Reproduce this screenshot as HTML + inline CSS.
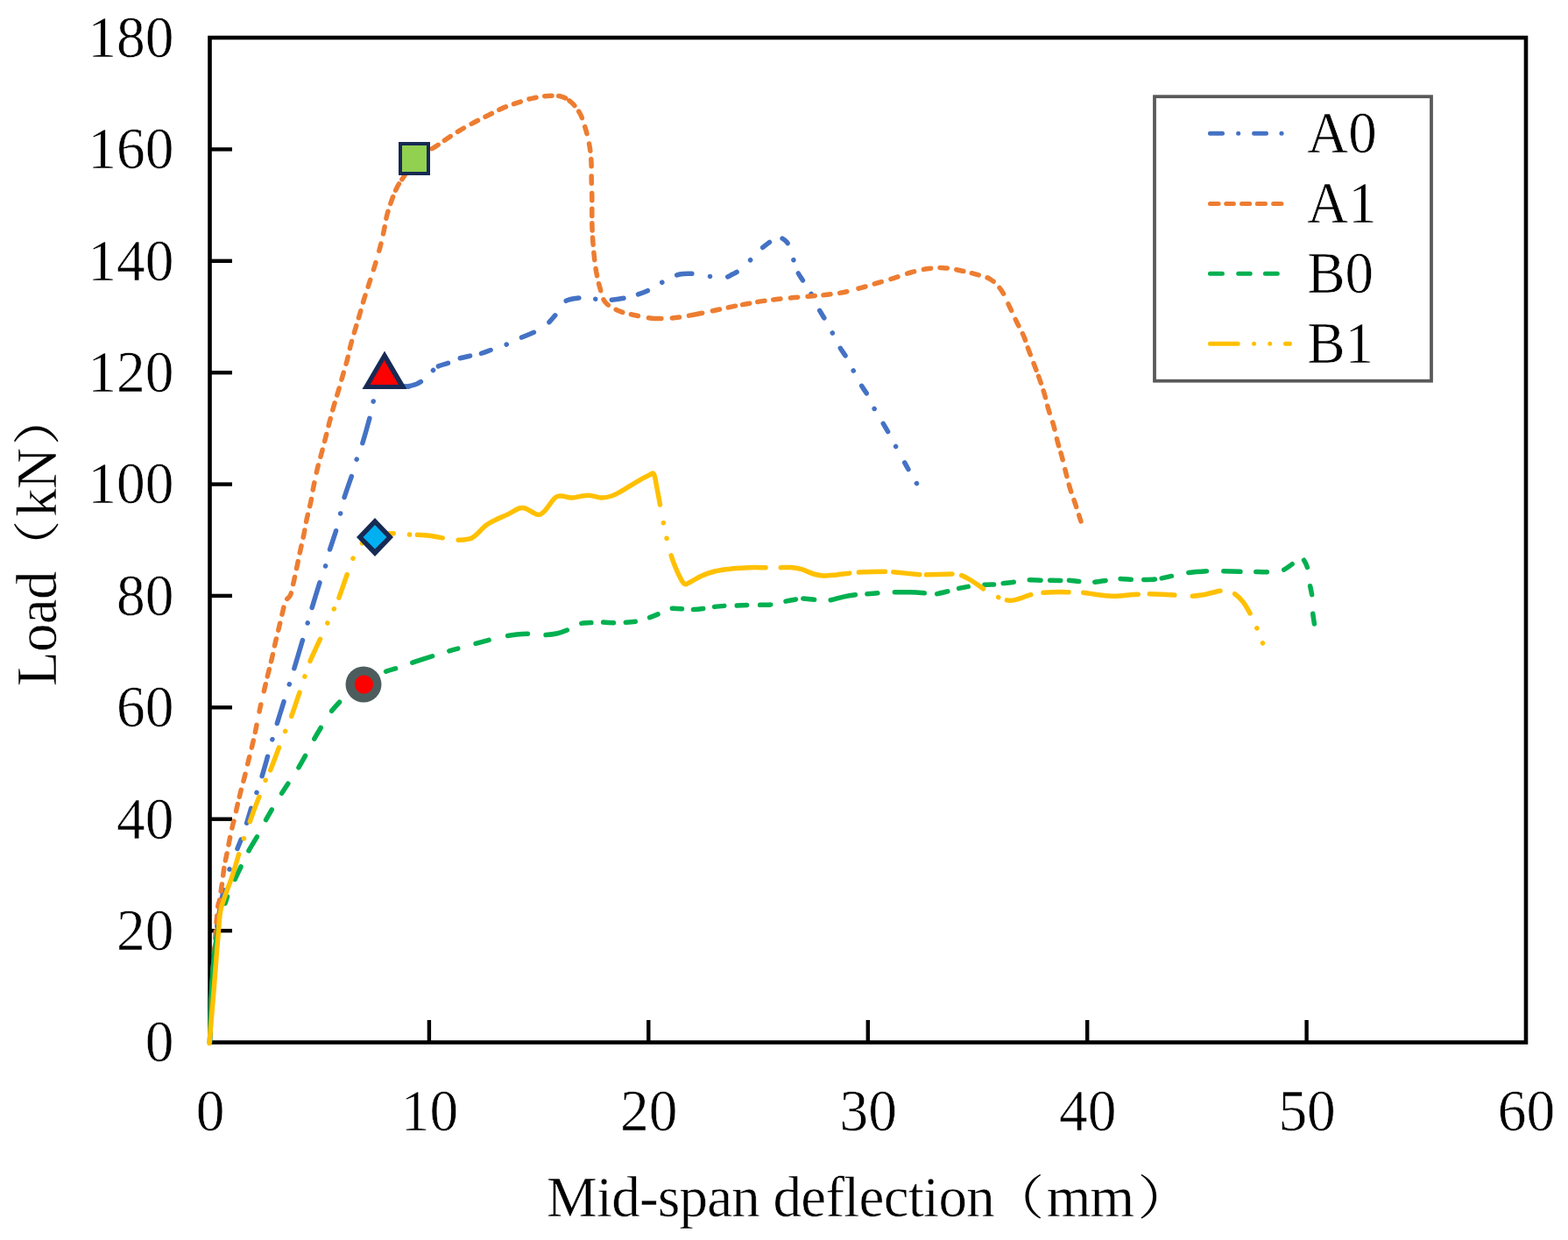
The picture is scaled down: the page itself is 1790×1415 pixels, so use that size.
<!DOCTYPE html>
<html><head><meta charset="utf-8"><title>Load vs Mid-span deflection</title>
<style>
html,body{margin:0;padding:0;background:#fff;}
svg{display:block;}
</style></head>
<body>
<svg width="1790" height="1415" viewBox="0 0 1790 1415">
<rect width="1790" height="1415" fill="#fff"/>
<g>
<rect x="239.5" y="43.0" width="1502.5" height="1146.5" fill="none" stroke="#000" stroke-width="4.6"/>
<line x1="239.5" y1="1062.1" x2="265" y2="1062.1" stroke="#000" stroke-width="4.4"/>
<line x1="239.5" y1="934.7" x2="265" y2="934.7" stroke="#000" stroke-width="4.4"/>
<line x1="239.5" y1="807.3" x2="265" y2="807.3" stroke="#000" stroke-width="4.4"/>
<line x1="239.5" y1="679.9" x2="265" y2="679.9" stroke="#000" stroke-width="4.4"/>
<line x1="239.5" y1="552.6" x2="265" y2="552.6" stroke="#000" stroke-width="4.4"/>
<line x1="239.5" y1="425.2" x2="265" y2="425.2" stroke="#000" stroke-width="4.4"/>
<line x1="239.5" y1="297.8" x2="265" y2="297.8" stroke="#000" stroke-width="4.4"/>
<line x1="239.5" y1="170.4" x2="265" y2="170.4" stroke="#000" stroke-width="4.4"/>
<line x1="489.9" y1="1189.5" x2="489.9" y2="1164" stroke="#000" stroke-width="4.4"/>
<line x1="740.3" y1="1189.5" x2="740.3" y2="1164" stroke="#000" stroke-width="4.4"/>
<line x1="990.8" y1="1189.5" x2="990.8" y2="1164" stroke="#000" stroke-width="4.4"/>
<line x1="1241.2" y1="1189.5" x2="1241.2" y2="1164" stroke="#000" stroke-width="4.4"/>
<line x1="1491.6" y1="1189.5" x2="1491.6" y2="1164" stroke="#000" stroke-width="4.4"/>
</g>
<g>
<path d="M239.5 1189.5 C239.8 1181.2 240.8 1155.8 241.5 1140 C242.2 1124.2 243 1108.3 244 1095 C245 1081.7 246.2 1070 247.5 1060 C248.8 1050 250.1 1042.8 251.5 1035 C252.9 1027.2 254.2 1020.2 256 1013 C257.8 1005.8 259.7 999 262 992 C264.3 985 267.5 977.3 269.9 971.2 C272.2 965.1 274.2 960.7 276.1 955.6 C278 950.5 279.2 946.8 281.1 940.9 C283 935 285.5 926.1 287.5 920 C289.5 913.9 291.2 909.7 293 904.4 C294.8 899.1 296.2 895.4 298.4 888.1 C300.6 880.9 304.1 868.3 306.2 860.9 C308.3 853.5 309.3 849.2 310.9 843.8 C312.4 838.3 313.9 833.3 315.5 828.2 C317.1 823.1 318.6 818 320.2 813 C321.8 808 323.2 803.3 324.9 797.9 C326.6 792.5 328.6 786.2 330.3 780.8 C332 775.4 332.5 774.1 335.1 765.3 C337.8 756.5 343.5 737 346.2 728 C348.9 719 349.6 716.4 351.2 711 C352.8 705.6 353.1 703.8 355.5 695.7 C357.9 687.6 363 670.9 365.7 662.6 C368.4 654.3 369.9 651.5 371.6 646 C373.3 640.5 373.7 636.6 375.8 629.5 C377.9 622.4 382.2 610.5 384.3 603.3 C386.4 596 387.2 591.9 388.6 586 C390.1 580.1 390.8 575.5 393 568 C395.2 560.5 399.7 548.5 402.1 541.2 C404.5 533.9 405.4 529.7 407.2 524.2 C409 518.7 410.6 516.3 413.1 508.1 C415.7 499.9 420.3 483.3 422.5 475 C424.7 466.7 424.9 462.6 426.2 458.1 C427.4 453.6 428.4 450.7 430 448 C431.6 445.3 433.5 443.2 436 442 C438.5 440.8 441.8 440.8 445 440.5 C448.2 440.2 451.5 440.4 455 440.5 C458.5 440.6 464.2 440.9 466 441" fill="none" stroke="#4472C4" stroke-width="5.5" stroke-linecap="round" stroke-linejoin="round" stroke-dasharray="91.86 40.68 42.28 24.55 0.10 24.95 11.29 20.11 17.28 19.24 0.10 19.87 22.80 20.43 0.10 18.96 26.22 20.63 0.10 18.93 33.42 20.42 0.10 18.59 29.14 20.32 0.10 19.73 22.05 20.53 0.10 18.99 25.05 20.45 0.10 19.85 28.91 20.01 0.10 41.32 8.26 908.02" stroke-dashoffset="-0.00"/>
<path d="M466 441 C467.7 440.5 473.2 439.2 476 438 C478.8 436.8 479.9 436.1 483 433.5 C486.1 430.9 492 424.9 494.5 422.5 C497 420.1 496.1 420.1 498 419 C499.9 417.9 503.3 416.9 506 416 C508.7 415.1 511.3 414.6 514.1 413.5 C516.9 412.4 518.5 410.8 522.7 409.5 C526.9 408.2 535.1 406.5 539.1 405.6 C543.1 404.7 543 405.3 546.9 404.1 C550.8 402.9 557.4 400.4 562.6 398.6 C567.8 396.8 573.1 395.2 578.2 393.1 C583.3 391 587.5 388.6 593.1 386.1 C598.7 383.6 607.3 380.3 611.8 378.3 C616.3 376.3 617.8 375.4 620 374 C622.2 372.6 622.6 372.4 625.1 369.7 C627.6 367 632.6 361.5 635.3 357.9 C637.9 354.3 638.9 350.6 641 348 C643.1 345.4 644.2 343.9 648 342.5 C651.8 341.1 658.2 340.1 663.5 339.9 C668.8 339.7 674.3 340.8 679.6 341.2 C684.9 341.6 689.7 342.5 695.5 342.3 C701.3 342.1 709.2 340.8 714.3 339.9 C719.4 339 721.4 338.4 726 336.8 C730.6 335.2 736.8 333 741.7 330.6 C746.7 328.2 751 324.9 755.7 322.3 C760.4 319.7 765.8 316.5 769.8 314.9 C773.8 313.3 776.2 312.9 780 312.5 C783.8 312.1 787.6 312.1 792.7 312.6 C797.8 313.1 804.5 314.8 810.4 315.4 C816.3 316 823.6 316.9 827.9 316.5 C832.2 316.1 833.4 314.3 836 313 C838.6 311.7 840.1 311.4 843.5 308.7 C846.9 306 852.3 300.9 856.5 296.9 C860.7 292.8 864.5 288 868.5 284.4 C872.5 280.8 877.3 277.2 880.3 275 C883.3 272.8 884.5 271.6 886.5 271 C888.5 270.4 890.1 270.7 892 271.5 C893.9 272.3 896.4 274.1 898 276 C899.6 277.9 900.2 279.6 901.5 283 C902.8 286.4 904.4 292.1 905.8 296.5 C907.2 300.9 908 305.1 910 309.4 C912 313.6 915.1 317.7 917.8 322 C920.5 326.3 923.3 330.2 926 335.2 C928.7 340.1 931.5 346.7 934.2 351.7 C936.9 356.7 939.4 360.3 942.1 365 C944.8 369.7 947.6 374.9 950.2 379.8 C952.8 384.8 955 390 957.7 394.7 C960.4 399.4 963.6 403.3 966.3 408 C969 412.7 971.5 417.9 974.1 422.8 C976.7 427.8 979.3 433 982 437.7 C984.7 442.4 987.8 446.2 990.5 451 C993.2 455.8 995.3 461.2 998 466.2 C1000.7 471.1 1003.9 475.9 1006.7 480.7 C1009.5 485.4 1012.2 489.9 1014.8 494.7 C1017.4 499.5 1019.8 504.2 1022.5 509.3 C1025.2 514.4 1028.6 520.2 1031.2 525 C1033.8 529.8 1035.6 533.2 1038.2 537.8 C1040.8 542.3 1045.4 549.9 1046.8 552.3" fill="none" stroke="#4472C4" stroke-width="5.5" stroke-linecap="round" stroke-linejoin="round" stroke-dasharray="15.76 18.91 0.10 7.69 11.53 15.00 11.36 13.45 11.14 19.24 0.10 19.17 14.76 21.47 10.11 21.27 15.00 18.87 0.10 18.65 13.47 17.62 11.39 18.98 0.10 18.63 17.75 20.62 0.10 20.26 12.11 20.26 0.10 20.03 9.59 16.95 8.10 20.32 0.10 16.28 9.33 18.24 0.10 21.13 9.97 19.57 0.10 19.38 10.34 19.43 0.10 19.57 10.29 19.65 0.10 19.61 10.67 19.21 0.10 20.65 9.09 18.36 0.10 902.71" stroke-dashoffset="-0.00"/>
<path d="M239.5 1189.5 C239.8 1181.2 240.8 1155.8 241.5 1140 C242.2 1124.2 243.2 1108.3 244 1095 C244.8 1081.7 245.7 1070.3 246.5 1060 C247.3 1049.7 248.2 1038.6 248.9 1033.3 C249.6 1028 249.7 1031.8 250.4 1027.9 C251.1 1024 252.3 1016.4 253.2 1010 C254.1 1003.6 255.3 994.2 255.9 989.8 C256.5 985.4 256.4 986.5 257 983.6 C257.6 980.7 258.4 977.2 259.4 972.3 C260.4 967.4 261.8 959.3 262.9 954.1 C264 948.9 265 944.4 265.8 941 C266.6 937.6 267.1 937.1 267.9 933.9 C268.7 930.6 269.3 926.3 270.4 921.5 C271.5 916.7 272.9 910.9 274.3 905.2 C275.7 899.5 277.4 893.5 279 887.3 C280.6 881.1 282.1 874.2 283.7 867.9 C285.2 861.5 286.9 855.3 288.3 849.2 C289.7 843.1 290.8 838.2 292.2 831.3 C293.6 824.4 295.2 815.7 296.9 808 C298.6 800.3 300.6 791.7 302.2 785 C303.8 778.3 304.9 773.5 306.3 767.8 C307.7 762.1 309.1 756.6 310.5 750.8 C311.9 745 313 738.9 314.4 733 C315.8 727.1 317.3 721.1 318.7 715.2 C320.1 709.3 321.7 702.3 322.9 697.4 C324.1 692.5 324.4 688.9 325.8 686 C327.2 683.1 329.9 682.3 331.2 679.8 C332.5 677.3 332.9 673.9 333.6 671 C334.3 668.1 334.6 667 335.6 662.6 C336.6 658.2 338.1 650.7 339.4 644.8 C340.6 638.9 341.8 632.9 343.1 627 C344.4 621.1 345.8 615.1 347 609.2 C348.2 603.3 349.1 597.3 350.4 591.4 C351.7 585.5 353.3 579.7 354.6 573.6 C355.9 567.5 356.7 561.4 358 555 C359.3 548.6 360.7 541.6 362.2 535.3 C363.7 529 365.4 523.3 367 517.4 C368.6 511.4 370.1 505.5 371.6 499.6 C373.1 493.7 374.6 487.7 376.1 481.8 C377.7 475.9 379.2 469.8 380.9 464 C382.5 458.2 384.3 452.8 386 447 C387.7 441.2 389.4 435.1 391.1 429.2 C392.8 423.3 394.6 417.3 396.2 411.4 C397.8 405.5 398.8 399.5 400.4 393.6 C401.9 387.7 403.8 381.6 405.5 375.8 C407.2 370 408.9 364.6 410.6 358.8 C412.3 353 413.9 346.9 415.7 341 C417.5 335.1 419.5 329.4 421.5 323.2 C423.5 317 425.6 310.5 427.7 303.7 C429.8 296.9 432 289.3 433.8 282.5 C435.6 275.7 437 269.3 438.3 263.1 C439.6 256.9 440.3 251.1 441.8 245.4 C443.3 239.7 445.2 234 447.1 228.7 C449 223.4 451 218.3 453.3 213.7 C455.6 209.1 458.4 205.6 461.2 201.3 C464 197 466.5 192.2 470 188 C473.5 183.8 477.6 179.4 482 176 C486.4 172.6 491.8 170.7 496.6 167.7 C501.4 164.7 505.8 161.2 510.7 158 C515.5 154.8 520.6 151.4 525.7 148.3 C530.9 145.2 536.3 142.3 541.6 139.5 C546.9 136.7 552.2 134.2 557.5 131.5 C562.8 128.8 567.9 125.9 573.4 123.6 C578.9 121.2 584.5 119.3 590.2 117.4 C595.9 115.5 601.9 113.4 607.8 112.1 C613.7 110.8 619.9 109.7 625.5 109.4 C631.1 109.1 636.8 109 641.4 110.3 C646 111.6 649.4 114 652.9 117.4 C656.4 120.8 660 125.4 662.6 130.6 C665.2 135.8 667 142.1 668.8 148.3 C670.6 154.5 672.2 161.5 673.2 167.7 C674.2 173.9 674.7 179.2 675 185.4 C675.3 191.6 675.1 198.3 675.2 204.8 C675.3 211.3 675.7 217.8 675.8 224.3 C675.9 230.8 675.8 237.8 675.8 243.7 C675.8 249.6 675.8 254.8 676 260 C676.2 265.2 676.4 269.6 676.8 275 C677.2 280.4 677.6 286.3 678.3 292.2 C678.9 298.1 679.7 304.3 680.7 310.2 C681.8 316.1 682.9 321.7 684.6 327.4 C686.3 333.1 687.1 340 690.8 344.6 C694.4 349.2 701 352.3 706.5 354.8 C712 357.3 716.9 358.1 723.7 359.5 C730.5 360.9 739.3 362.9 747.2 363.4 C755.1 363.9 763.2 363.4 771 362.6 C778.8 361.8 786.6 360.1 794.2 358.7 C801.9 357.3 810.1 355.4 816.9 354 C823.7 352.6 829.2 351.3 834.9 350.1 C840.6 348.9 845.7 348 851.3 347 C856.9 346 862.6 344.8 868.5 343.9 C874.4 343 880.2 342.2 886.5 341.5 C892.8 340.8 899.6 340.2 906.1 339.6 C912.6 339 919.4 338.4 925.6 337.9 C931.9 337.3 937.5 337 943.6 336.3 C949.7 335.6 955.8 335 962.4 333.7 C969 332.4 976.9 330.1 983.4 328.3 C989.9 326.5 995.2 324.8 1001.4 323 C1007.6 321.2 1014.1 319.3 1020.5 317.3 C1026.9 315.3 1033.3 312.8 1039.6 311 C1045.8 309.2 1051.8 307.7 1058 306.8 C1064.2 305.9 1070.5 305.4 1076.7 305.7 C1082.9 306 1089.3 307.3 1095.3 308.5 C1101.3 309.7 1107 311 1112.8 312.7 C1118.6 314.4 1125.2 315.4 1130.3 318.5 C1135.4 321.6 1139.5 326.1 1143.2 331.3 C1146.9 336.6 1149.6 344 1152.5 350 C1155.4 356 1158 361.9 1160.7 367.5 C1163.4 373.1 1166.5 378.4 1168.8 383.8 C1171.1 389.2 1172.5 394.6 1174.6 400.2 C1176.7 405.8 1179.2 412.3 1181.2 417.7 C1183.2 423.1 1185 427.6 1186.8 432.8 C1188.6 438.1 1190.5 443.6 1192.2 449.2 C1193.9 454.8 1195 460.7 1196.8 466.7 C1198.5 472.7 1201 479.1 1202.7 485.3 C1204.5 491.5 1205.8 498.2 1207.3 504 C1208.8 509.8 1210.4 514.5 1212 520.3 C1213.6 526.1 1215.2 533 1216.7 539 C1218.2 545 1219.5 550.7 1221.3 556.5 C1223 562.3 1225.1 567.6 1227.2 574 C1229.3 580.4 1232.9 591.5 1234 595" fill="none" stroke="#ED7D31" stroke-width="5.5" stroke-linecap="round" stroke-linejoin="round" stroke-dasharray="8.30 9.90 8.30 9.90 8.30 9.90 8.30 9.90 8.30 9.90 8.30 9.90 8.30 9.90 8.30 9.90 8.30 9.90 8.30 9.90 8.30 9.03 8.30 10.01 8.30 11.01 8.30 11.76 8.30 8.46 8.30 10.21 8.30 11.66 8.30 10.96 8.30 10.02 8.30 15.47 8.30 15.30 8.30 9.38 8.30 9.21 8.30 9.92 8.30 10.01 8.30 9.99 8.30 10.75 8.30 10.51 8.30 9.90 8.30 9.88 8.30 9.92 8.30 9.82 8.30 9.99 8.30 10.61 8.30 11.84 8.30 10.23 8.30 10.08 8.30 10.06 8.30 10.14 8.30 9.45 8.30 10.22 8.30 10.22 8.30 9.99 8.30 10.22 8.30 9.45 8.30 10.22 8.30 10.42 8.30 12.16 8.30 13.76 8.30 11.62 8.30 9.75 8.30 9.23 8.30 7.94 8.30 6.41 8.30 8.07 8.30 8.71 8.30 8.10 8.30 8.82 8.30 9.57 8.30 9.88 8.30 9.50 8.30 9.46 8.30 9.61 8.30 10.09 8.30 9.63 8.30 7.70 8.30 5.36 8.30 8.15 8.30 10.48 8.30 11.60 8.30 9.50 8.30 11.10 8.30 11.21 8.30 9.29 8.30 8.25 8.30 8.29 8.30 8.97 8.30 9.86 8.30 9.35 8.30 10.56 8.30 10.15 8.30 10.10 8.30 11.92 14.50 12.44 8.30 11.05 15.50 11.87 8.30 10.12 8.30 8.39 8.30 9.18 8.30 9.86 8.30 11.39 8.30 11.27 8.30 9.77 8.30 10.69 8.30 13.39 8.30 10.95 8.30 11.15 8.30 11.33 8.30 11.08 8.30 10.46 8.30 10.53 8.30 9.70 8.30 10.20 8.30 10.00 8.30 12.61 8.30 11.03 8.30 9.91 8.30 9.10 8.30 10.40 8.30 7.81 8.30 8.97 8.30 9.80 8.30 11.21 8.30 10.96 8.30 8.66 8.30 10.98 8.30 9.80 8.30 10.17 8.30 9.72 8.30 2324.08" stroke-dashoffset="-9.40"/>
<path d="M239.5 1189.5 C239.8 1181.2 240.4 1153.6 241 1140 C241.6 1126.4 242.2 1118.3 243 1108 C243.8 1097.7 244.8 1086.8 246 1078 C247.2 1069.2 248.8 1061 250 1055 C251.2 1049 252.4 1045.6 253.5 1042 C254.6 1038.4 255.1 1036.9 256.3 1033.3 C257.5 1029.7 258.7 1025.1 260.5 1020.5 C262.3 1015.9 264.5 1011.4 267.1 1005.8 C269.7 1000.2 273.5 992.2 276.1 986.7 C278.7 981.2 279.6 978.8 282.7 973.1 C285.8 967.4 291.4 958.4 294.7 952.5 C298 946.6 299.5 943.1 302.3 937.9 C305.1 932.7 308.6 926.6 311.6 921.5 C314.6 916.4 317.1 912.4 320.2 907.5 C323.3 902.6 327.1 896.9 330.3 892 C333.5 887.1 336.4 883.3 339.6 878 C342.9 872.7 346.8 865.6 349.8 860.1 C352.8 854.6 354.5 850.6 357.5 845.3 C360.5 840 364.4 833.5 367.6 828.2 C370.9 822.9 373.4 818.2 377 813.4 C380.6 808.6 385.4 803.3 389.4 799.4 C393.4 795.5 396.7 793.1 401 790 C405.3 786.9 412.7 782.5 415 781" fill="none" stroke="#00B050" stroke-width="5.5" stroke-linecap="round" stroke-linejoin="round" stroke-dasharray="132.34 28.11 7.97 21.62 15.61 20.62 18.34 21.96 13.35 21.93 13.00 22.31 15.10 22.18 14.36 23.04 13.22 20.45 13.90 559.43" stroke-dashoffset="-0.00"/>
<path d="M415 781 C418.8 778.7 431.5 770.6 438 767.4 C444.5 764.2 449.1 763.8 454.2 762 C459.3 760.2 461.4 759.2 468.4 756.9 C475.4 754.6 489 750.2 496 748 C503 745.8 505.3 745.1 510.2 743.6 C515.1 742.1 520.3 740.7 525.4 739.3 C530.5 737.9 534.7 736.7 540.6 735.1 C546.5 733.5 554.6 731.3 560.6 729.8 C566.6 728.3 571.8 727 576.7 726 C581.6 725 585.2 724.5 590 724 C594.8 723.5 600.1 723.2 605.2 723.3 C610.3 723.4 615.2 724.7 620.4 724.6 C625.6 724.5 631.6 723.8 636.5 722.7 C641.4 721.6 645.7 719.8 649.8 718 C653.9 716.2 656.6 713.2 661.2 711.9 C665.8 710.6 673.3 710.7 677.4 710.4 C681.5 710.1 681.6 709.9 685.9 710 C690.2 710.1 698.7 710.7 703 710.8 C707.3 710.9 707.4 710.7 711.5 710.4 C715.6 710.1 723.1 709.7 727.7 708.9 C732.3 708.1 734.8 707.1 739.1 705.6 C743.4 704.1 749.1 701.8 753.3 699.9 C757.5 698 759.9 695.3 764.5 694.5 C769.1 693.7 777 694.8 781 695 C785 695.2 784.6 695.8 788.6 695.7 C792.6 695.6 801.2 694.7 805.2 694.2 C809.2 693.7 808.7 693.2 812.7 692.7 C816.7 692.2 825 691.5 829.3 691.2 C833.6 691 834.1 691.3 838.4 691.2 C842.7 691.1 850.6 690.5 855 690.4 C859.4 690.3 860.3 690.5 864.8 690.4 C869.3 690.3 877.2 690.3 882.1 689.7 C887 689.1 889.4 687.7 894.2 686.7 C899 685.7 907.5 684.2 910.8 683.6 C914.1 683 910.3 682.8 913.8 682.9 C917.3 683 926.6 684 931.9 684.4 C937.1 684.8 940.2 685.8 945.3 685.2 C950.4 684.7 957.1 682.2 962.6 681.1 C968.1 680 974.5 679 978.5 678.5 C982.5 678 982.5 678.4 986.8 678.1 C991.1 677.8 998.8 677 1004.1 676.6 C1009.4 676.2 1012.8 675.9 1018.4 675.8 C1024 675.7 1031.5 675.6 1038 675.8 C1044.5 676 1052.8 676.6 1057.6 677 C1062.4 677.4 1062.3 678.6 1066.7 678.1 C1071.1 677.6 1079.8 675.3 1084 674.3 C1088.2 673.3 1087.7 672.9 1091.6 672 C1095.5 671.1 1102.5 669.8 1107.4 669 C1112.3 668.2 1116.1 667.9 1121 667.5 C1125.9 667.1 1133.3 667 1136.8 666.8 C1140.3 666.5 1138.3 666.5 1142.1 666 C1145.9 665.5 1154.5 664.7 1159.5 664 C1164.5 663.3 1167.1 662.2 1172.3 661.9 C1177.5 661.6 1183.7 662.1 1190.4 662.2 C1197.2 662.3 1208.3 662.5 1212.8 662.5 C1217.3 662.5 1213.8 661.7 1217.3 661.9 C1220.8 662.1 1229 663.3 1233.9 663.7 C1238.8 664.1 1241.8 664.8 1246.8 664.5 C1251.8 664.2 1259.2 662.9 1264.1 662.2 C1269 661.5 1271.3 660.5 1276.2 660.4 C1281.1 660.3 1289.1 661.3 1293.5 661.5 C1297.9 661.7 1298.1 661.6 1302.6 661.5 C1307.1 661.4 1314.5 661.5 1320.7 660.7 C1326.9 660 1334 658.1 1339.5 657 C1345 655.9 1347.1 654.8 1353.8 653.9 C1360.5 653 1372.8 652.1 1379.5 651.7 C1386.2 651.3 1387.4 651.6 1393.8 651.7 C1400.2 651.8 1411.8 652.3 1418 652.4 C1424.2 652.5 1425.7 652.3 1430.8 652.4 C1435.9 652.5 1443.2 652.9 1448.5 652.7 C1453.8 652.6 1458.1 653.2 1462.8 651.5 C1467.5 649.8 1473.1 645.1 1476.7 642.6 C1480.3 640.1 1482.5 636.9 1484.5 636.5 C1486.5 636.1 1487.6 637.8 1489 640 C1490.4 642.2 1492 645.4 1493 649.6 C1494 653.8 1494.2 660.2 1495 665.4 C1495.8 670.6 1497.3 675.4 1497.9 680.7 C1498.5 686 1498 691.8 1498.4 697 C1498.8 702.2 1500.1 709.5 1500.4 712" fill="none" stroke="#00B050" stroke-width="5.5" stroke-linecap="round" stroke-linejoin="round" stroke-dasharray="8.79 20.69 11.60 20.59 23.50 20.37 10.30 21.27 15.19 22.04 23.18 20.77 24.87 18.48 10.80 14.02 11.62 14.02 10.78 17.39 9.80 18.01 11.04 13.15 11.17 13.16 11.17 14.60 11.12 15.30 11.82 17.98 11.39 8.93 12.66 18.96 28.41 13.82 11.87 19.82 33.74 14.72 12.22 13.45 10.58 19.19 10.32 10.87 12.01 18.48 12.61 10.60 11.80 10.15 11.20 18.44 11.96 17.75 11.84 14.60 12.63 7.87 11.30 20.14 20.30 19.81 18.71 18.30 12.20 19.93 11.06 17.37 9.17 21.43 10.08 21.81 12.39 1275.46" stroke-dashoffset="-0.00"/>
<path d="M239 1190.5 C239.8 1181.6 242 1155 243.5 1137 C245 1119 246.8 1095.1 247.8 1082.6 C248.8 1070.1 248.9 1069.1 249.5 1062 C250.1 1054.9 250.5 1046.2 251.6 1040 C252.7 1033.8 253.8 1031.7 256 1025 C258.2 1018.3 262.1 1008.8 265 1000 C267.9 991.2 271.2 979.5 273.4 972.3 C275.6 965.1 276.6 962.1 278.4 956.8 C280.2 951.4 282.4 945.8 284.4 940.2 C286.4 934.6 288.4 928.6 290.5 923 C292.6 917.4 294.8 912.1 296.9 906.7 C299 901.3 301.3 894.7 303.1 890.4 C304.9 886.1 305.1 887.7 307.8 881.1 C310.5 874.5 316.4 858.6 319.4 850.8 C322.4 843 323.5 839.6 325.6 834.4 C327.7 829.2 329 827.5 331.9 819.7 C334.8 811.9 340.1 795.8 342.8 787.8 C345.5 779.8 346.2 777.2 347.9 772 C349.6 766.8 349.9 764.3 353 756.8 C356.1 749.3 363 734.7 366.5 727.1 C370 719.5 371.3 716.4 373.8 711 C376.3 705.6 379.3 699.3 381.3 694.9 C383.3 690.5 383.4 691.6 386 684.7 C388.6 677.8 394.2 661.2 397 653.3 C399.8 645.4 400.6 642.4 403 637.2 C405.4 632 408.7 625.6 411.5 622 C414.3 618.4 417.2 617.2 420 615.5 C422.8 613.8 423.4 612.6 428 611.5 C432.6 610.4 440.7 609 447.3 608.7 C453.9 608.5 463 609.8 467.4 610 C471.8 610.2 469.9 610 473.7 610.2 C477.5 610.4 484.6 610.6 490.3 611.3 C496 612 502.7 613.5 507.7 614.3 C512.7 615.1 516.1 616 520.5 616.2 C524.9 616.4 530.6 616 534.1 615.3 C537.6 614.6 538.1 614.7 541.6 612 C545.1 609.3 551.2 602.3 555.2 599.2 C559.2 596.1 561.4 595.3 565.7 593.2 C570 591.1 576.3 588.6 580.8 586.4 C585.3 584.2 589.6 581 592.9 580 C596.2 579 597 579.1 600.4 580.3 C603.8 581.5 609.9 586.5 613.3 587.1 C616.7 587.7 617.4 587.3 620.8 584.1 C624.2 580.9 630.2 571 633.6 568 C637 565 637.9 566 641.2 566 C644.5 566 648.2 568.1 653.2 568 C658.2 567.9 665.8 565.2 671.3 565.2 C676.8 565.2 681.9 567.9 686.4 568 C690.9 568.1 694.1 567.3 698.1 566 C702.1 564.7 705.7 562.5 710.2 560 C714.7 557.5 720.2 553.8 725.2 550.9 C730.2 548 736.8 544.2 740.3 542.6 C743.8 541 744.8 538.6 746.4 541.1 C748 543.6 748.9 551.5 750.1 557.7 C751.4 563.9 752.7 571.7 753.9 578.1 C755.1 584.5 756 590.2 757.2 596.2 C758.4 602.2 759.7 608 761 613.8 C762.3 619.6 763.4 624.9 765.2 630.9 C767 636.9 769.5 643.9 772 649.7 C774.5 655.5 778 662.9 780.3 665.5 C782.6 668.1 782.2 666.9 785.6 665.5 C789 664.1 795.7 659.5 800.7 657.3 C805.7 655 810.7 653.3 815.7 652 C820.7 650.7 825.8 650 830.8 649.4 C835.8 648.8 840.9 648.5 845.9 648.2 C850.9 647.9 856 647.6 861 647.5 C866 647.4 871.6 647.8 876.1 647.8 C880.6 647.8 883.6 647.8 888.1 647.8 C892.6 647.8 898.7 647.2 903.2 647.5 C907.7 647.8 911 648.5 915.3 649.7 C919.6 651 924.8 653.8 928.9 655 C933 656.2 935.6 656.9 940 657 C944.4 657.1 949.8 656.4 955.1 655.9 C960.4 655.4 968.1 654.3 971.7 653.9 C975.4 653.5 970.2 653.5 977 653.2 C983.8 652.9 1005.9 652.2 1012.4 652.1 C1018.9 652 1009.7 651.8 1016.2 652.4 C1022.7 653 1045.3 655.3 1051.6 655.9 C1057.9 656.5 1047.7 656 1053.9 655.9 C1060.1 655.8 1081.8 655.1 1088.6 655 C1095.4 654.9 1091.5 654.3 1094.6 655.4 C1097.7 656.5 1102.5 658.6 1107.4 661.5 C1112.3 664.4 1118.8 669.5 1124 672.8 C1129.2 676.1 1135.1 679.2 1138.8 681.1 C1142.5 683 1142.8 683.5 1145.9 684.1 C1149 684.7 1151.8 685.9 1157.2 684.9 C1162.6 683.9 1173.3 679.5 1178.3 678.1 C1183.3 676.7 1182.1 677 1187.4 676.6 C1192.7 676.2 1204.2 675.6 1210 675.5 C1215.8 675.4 1218 675.8 1221.9 675.8 C1225.8 675.8 1227.8 675.3 1233.2 675.8 C1238.6 676.3 1247.8 678 1254.3 678.8 C1260.8 679.5 1266.4 680.3 1272.4 680.3 C1278.4 680.3 1285.7 679.2 1290.5 678.8 C1295.3 678.4 1298.1 678.3 1301.1 678.1 C1304.1 677.9 1301.7 677.4 1308.6 677.6 C1315.5 677.8 1334.3 678.7 1342.5 679.1 C1350.7 679.5 1352.4 680.3 1357.6 680.3 C1362.8 680.2 1367.3 679.8 1373.5 678.8 C1379.7 677.8 1389.1 674.5 1394.6 674 C1400.1 673.5 1402.6 673.7 1406.6 675.8 C1410.6 677.9 1415.2 682.1 1418.7 686.4 C1422.2 690.7 1425.2 696.5 1427.8 701.4 C1430.4 706.3 1432.2 710.6 1434.5 716 C1436.8 721.4 1440.3 731 1441.5 734" fill="none" stroke="#FFC000" stroke-width="5.5" stroke-linecap="round" stroke-linejoin="round" stroke-dasharray="219.46 18.99 0.10 20.35 30.26 20.14 0.10 13.14 26.95 20.23 0.10 18.70 28.21 19.30 0.10 18.74 27.13 20.38 0.10 17.66 0.10 13.94 27.77 19.89 0.10 20.15 5.28 22.55 10.74 18.11 0.10 9.00 28.80 18.45 288.61 21.10 0.10 17.91 0.10 20.31 132.46 17.50 79.73 10.98 29.92 11.63 30.07 11.70 29.21 11.64 28.79 19.67 0.10 10.45 28.12 14.76 29.04 16.81 62.78 13.05 28.43 20.66 32.14 17.85 28.26 18.77 0.10 18.01 0.10 1917.15" stroke-dashoffset="-0.00"/>
</g>
<g>
<rect x="457" y="164" width="32" height="34" fill="#92D050" stroke="#172A54" stroke-width="4"/>
<polygon points="439,400.5 413.5,444 464.5,444" fill="#172A54"/>
<polygon points="438.7,411 422.5,439 455,439" fill="#FF0000"/>
<polygon points="428,591 449,613 428,635 407,613" fill="#172A54"/>
<polygon points="428,599 441.5,613 428,626.5 414.5,613" fill="#00B0F0"/>
<circle cx="415" cy="781" r="20.5" fill="#4D5D5D"/>
<circle cx="415.5" cy="781" r="10.6" fill="#FF0000"/>
</g>
<g font-family="'Liberation Serif','Times New Roman',serif" font-size="68.5" fill="#000" stroke="#fff" stroke-width="0.6">
<text transform="translate(198.4,1211.3) scale(0.955,1)" text-anchor="end">0</text>
<text transform="translate(198.4,1083.9) scale(0.955,1)" text-anchor="end">20</text>
<text transform="translate(198.4,956.5) scale(0.955,1)" text-anchor="end">40</text>
<text transform="translate(198.4,829.1) scale(0.955,1)" text-anchor="end">60</text>
<text transform="translate(198.4,701.7) scale(0.955,1)" text-anchor="end">80</text>
<text transform="translate(198.4,574.4) scale(0.955,1)" text-anchor="end">100</text>
<text transform="translate(198.4,447) scale(0.955,1)" text-anchor="end">120</text>
<text transform="translate(198.4,319.6) scale(0.955,1)" text-anchor="end">140</text>
<text transform="translate(198.4,192.2) scale(0.955,1)" text-anchor="end">160</text>
<text transform="translate(198.4,64.8) scale(0.955,1)" text-anchor="end">180</text>
<text transform="translate(240,1289.6) scale(0.955,1)" text-anchor="middle">0</text>
<text transform="translate(490.4,1289.6) scale(0.955,1)" text-anchor="middle">10</text>
<text transform="translate(740.8,1289.6) scale(0.955,1)" text-anchor="middle">20</text>
<text transform="translate(991.2,1289.6) scale(0.955,1)" text-anchor="middle">30</text>
<text transform="translate(1241.7,1289.6) scale(0.955,1)" text-anchor="middle">40</text>
<text transform="translate(1492.1,1289.6) scale(0.955,1)" text-anchor="middle">50</text>
<text transform="translate(1742.5,1289.6) scale(0.955,1)" text-anchor="middle">60</text>
</g>
<g font-family="'Liberation Serif','Times New Roman',serif" font-size="68" fill="#000">
<rect x="1318" y="110.2" width="316" height="324.5" fill="#fff" stroke="#595959" stroke-width="3.8"/>
<line x1="1381.40" y1="152.3" x2="1463.11" y2="152.3" stroke="#4472C4" stroke-width="5.0" stroke-linecap="round" stroke-dasharray="14.10 18.10 0.10 17.90 13.90 17.40 0.30 200.00"/>
<text transform="translate(1492.3,173.9) scale(0.955,1)" stroke="#fff" stroke-width="0.6">A0</text>
<line x1="1381.40" y1="232.5" x2="1462.91" y2="232.5" stroke="#ED7D31" stroke-width="5.0" stroke-linecap="round" stroke-dasharray="9.70 8.60 8.70 9.10 9.20 8.60 9.20 9.10 9.30 200.00"/>
<text transform="translate(1492.3,253.5) scale(0.955,1)" stroke="#fff" stroke-width="0.6">A1</text>
<line x1="1381.40" y1="312.3" x2="1458.31" y2="312.3" stroke="#00B050" stroke-width="5.0" stroke-linecap="round" stroke-dasharray="14.00 18.30 13.50 17.20 13.90 200.00"/>
<text transform="translate(1492.3,333.7) scale(0.955,1)" stroke="#fff" stroke-width="0.6">B0</text>
<line x1="1381.40" y1="392.2" x2="1472.51" y2="392.2" stroke="#FFC000" stroke-width="5.0" stroke-linecap="round" stroke-dasharray="31.80 18.30 0.10 18.05 0.10 17.75 5.20 200.00"/>
<text transform="translate(1492.3,413.6) scale(0.955,1)" stroke="#fff" stroke-width="0.6">B1</text>
</g>
<g font-family="'Liberation Serif','Times New Roman',serif" font-size="65" letter-spacing="-0.75" stroke="#fff" stroke-width="0.5">
<text x="623.9" y="1387.8">Mid-span deflection</text>
<text x="1194.7" y="1387.8">mm</text>
<text transform="translate(64,782.9) rotate(-90)">Load</text>
<text transform="translate(64,782.9) rotate(-90)" x="193.1">kN</text>
</g>
<g font-family="'Liberation Serif','Noto Serif CJK SC','Noto Serif CJK JP',serif" font-size="54">
<text transform="translate(1130.1,1385.8) scale(1.15,1)">（</text>
<text transform="translate(1298.4,1385.8) scale(1.15,1)">）</text>
<text transform="translate(61.8,782.9) rotate(-90) translate(127.2,0) scale(1.15,1)">（</text>
<text transform="translate(61.8,782.9) rotate(-90) translate(274.6,0) scale(1.15,1)">）</text>
</g>
</svg>
</body></html>
